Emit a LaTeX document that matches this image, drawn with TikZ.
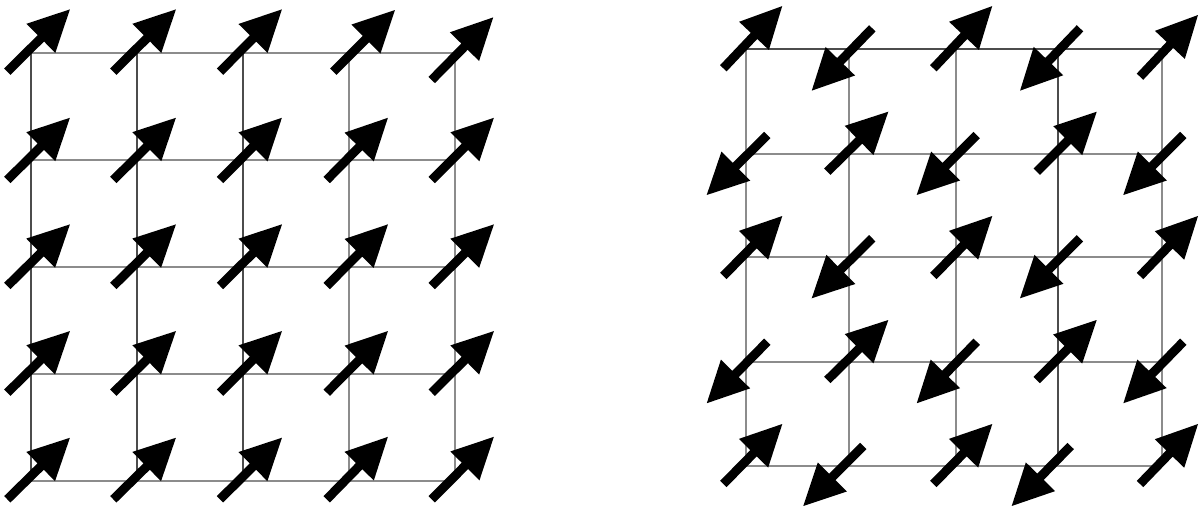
\documentclass[tikz,border=0pt]{standalone}
\begin{document}
\begin{tikzpicture}[x=1pt,y=-1pt,
  spinfill/.style={fill=black},
  gdark/.style={line width=1.3pt, draw=black!70},
  glight/.style={line width=1.3pt, draw=black!45}]
\useasboundingbox (0,0) rectangle (1199,508);
% ---------- left grid ----------
\foreach \x in {31,137,243} \draw[gdark] (\x,53) -- (\x,481);
\foreach \x in {349,455} \draw[glight] (\x,53) -- (\x,481);
\foreach \y in {53,160,267,374,481} \draw[glight] (31,\y) -- (455,\y);
% ---------- right grid ----------
\foreach \x in {746,849,956,1162} \draw[glight] (\x,49) -- (\x,466);
\draw[gdark] (1058,49) -- (1058,466);
\draw[gdark] (746,49) -- (1162,49);
\foreach \y in {154,257,362,466} \draw[glight] (746,\y) -- (1162,\y);
% ---------- spins as filled arrows ----------
\foreach \ax/\ay/\bx/\by in {
  % left lattice: all aligned
  7.3/71.7/70/9.3, 113.3/71.7/176/9.3, 220/71.7/282/9.3, 333.3/71.7/395/10, 431.7/80/493.3/17.3,
  7.3/180/70/117.7, 113.3/180/176/117.7, 220/180/282/117.7, 326.7/180/388/117.7, 431.7/180/494/117.7,
  7.3/286/70/224.3, 113.3/286/176/224.3, 220/286/282/224.3, 326.7/286/388/224.3, 431.7/286/494/224.3,
  7.3/392.7/70/331, 113.3/392.7/176/331, 220/392.7/282/331, 326.7/392.7/388/331, 431.7/392.7/494/331,
  7.3/499.3/70/437.7, 113.3/499.3/176/437.7, 220/499.3/282/437.7, 326.7/499.3/388/436.7, 431.7/499.3/494/436.7,
  % right lattice: up spins
  723.3/68.3/782.3/6, 933.3/68.3/992.3/6, 1140/76.7/1198/15,
  827.3/171.7/888.3/111.7, 1036.7/171.7/1096.7/111.7,
  723.3/276/782.3/216, 933.3/276/992.3/216, 1140/276/1198/216,
  827.3/380/888.3/320, 1036.7/380/1096.7/320,
  723.3/484/782.3/424, 933.3/484/992.3/424, 1140/484/1198/424,
  % right lattice: down spins
  872.3/28.3/811.7/90.7, 1080/28.3/1020/90.7,
  767.3/135/706.7/195, 976.7/135/916.7/195, 1183.3/135/1123.3/195,
  872.3/238.3/811.7/298.3, 1080/238.3/1020/298.3,
  767.3/341.7/706.7/403.3, 976.7/341.7/916.7/403.3, 1183.3/341.7/1123.3/403.3,
  863.3/446/803.3/506, 1070.7/446/1011.7/506}
{
  \pgfmathsetmacro\ang{atan2(\ay-\by,\bx-\ax)}
  \pgfmathsetmacro\len{veclen(\bx-\ax,\by-\ay)}
  \pgfmathsetmacro\hb{\len-41}
  \fill[spinfill, shift={(\ax,\ay)}, rotate=\ang]
    (0,-4.5) -- (\hb,-4.5) -- (\hb,-20.5) -- (\len,0) -- (\hb,20.5) -- (\hb,4.5) -- (0,4.5) -- cycle;
}
\end{tikzpicture}
\end{document}
